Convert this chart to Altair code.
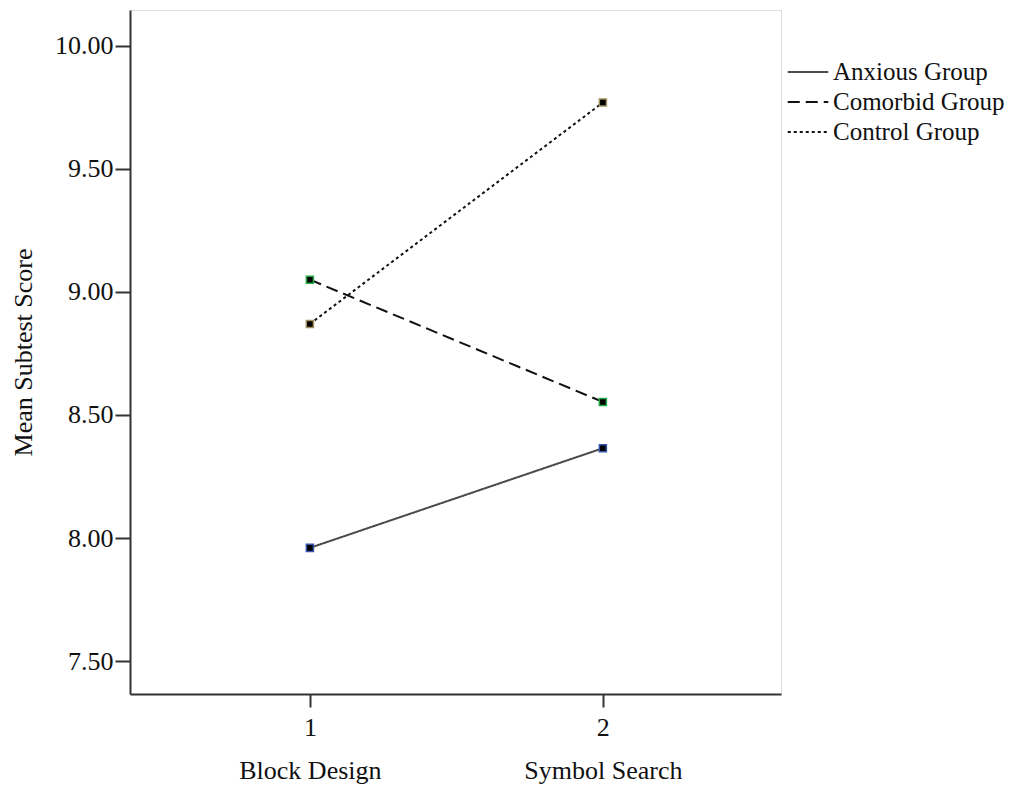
import altair as alt
import pandas as pd

groups = ["Anxious Group", "Comorbid Group", "Control Group"]
subtests = [1, 2]
subtest_names = ["Block Design", "Symbol Search"]
anxious = [7.96, 8.365]
comorbid = [9.05, 8.553]
control = [8.87, 9.77]

rows = []
for g, vals in zip(groups, [anxious, comorbid, control]):
    for s, v in zip(subtests, vals):
        rows.append({"group": g, "subtest": s, "score": v})
df = pd.DataFrame(rows)

FONT = "Liberation Serif"
FS = 26

label_expr = " : ".join(
    [f"datum.value == {s} ? ['{s}', '{n}']" for s, n in zip(subtests, subtest_names)]
) + " : ''"

x = alt.X(
    "subtest:Q",
    scale=alt.Scale(domain=[0.386, 2.608], nice=False, zero=False),
    axis=alt.Axis(
        values=subtests, title=None, labelExpr=label_expr, grid=False,
        tickSize=13, tickWidth=2, tickColor="#333", domainColor="#333", domainWidth=2,
        labelFont=FONT, labelFontSize=FS, labelColor="#111", labelPadding=7,
        labelLineHeight=43, labelBaseline="top",
    ),
)
y = alt.Y(
    "score:Q",
    scale=alt.Scale(domain=[7.366, 10.146], nice=False, zero=False),
    axis=alt.Axis(
        values=[7.5, 8.0, 8.5, 9.0, 9.5, 10.0], format=".2f", title="Mean Subtest Score",
        grid=False, tickSize=15, tickWidth=2, tickColor="#333", domainColor="#333", domainWidth=2,
        labelFont=FONT, labelFontSize=FS, labelColor="#111", labelPadding=2,
        titleFont=FONT, titleFontSize=FS, titleFontWeight="normal", titleColor="#111",
        titlePadding=18,
    ),
)

legend = alt.Legend(
    title=None, orient="none", legendX=662, legendY=46,
    symbolType="M-1.35,0H1.35", symbolSize=900, symbolStrokeWidth=2,
    labelFont=FONT, labelFontSize=25, labelColor="#111", labelOffset=9,
    labelLimit=0, rowPadding=1, padding=0,
)

lines = alt.Chart(df).mark_line(strokeWidth=2).encode(
    x=x, y=y,
    color=alt.Color(
        "group:N",
        scale=alt.Scale(domain=groups, range=["#4a4a4a", "#111111", "#111111"]),
        legend=legend,
    ),
    strokeDash=alt.StrokeDash(
        "group:N",
        scale=alt.Scale(domain=groups, range=[[1, 0], [12, 6], [3, 3]]),
        legend=legend,
    ),
)

points = alt.Chart(df).mark_square(size=50, strokeWidth=1.5, opacity=1).encode(
    x=x, y=y,
    fill=alt.value("#000000"),
    stroke=alt.Stroke(
        "group:N",
        scale=alt.Scale(domain=groups, range=["#3355aa", "#22aa44", "#a09060"]),
        legend=None,
    ),
)

chart = (
    alt.layer(lines, points)
    .properties(width=651, height=684, padding={"top": 2, "left": 2, "right": 0, "bottom": 5})
    .configure_view(stroke="#333", strokeWidth=2)
    .configure(background="white")
)

chart.save("out.html", embed_options={"renderer": "svg", "actions": False})
